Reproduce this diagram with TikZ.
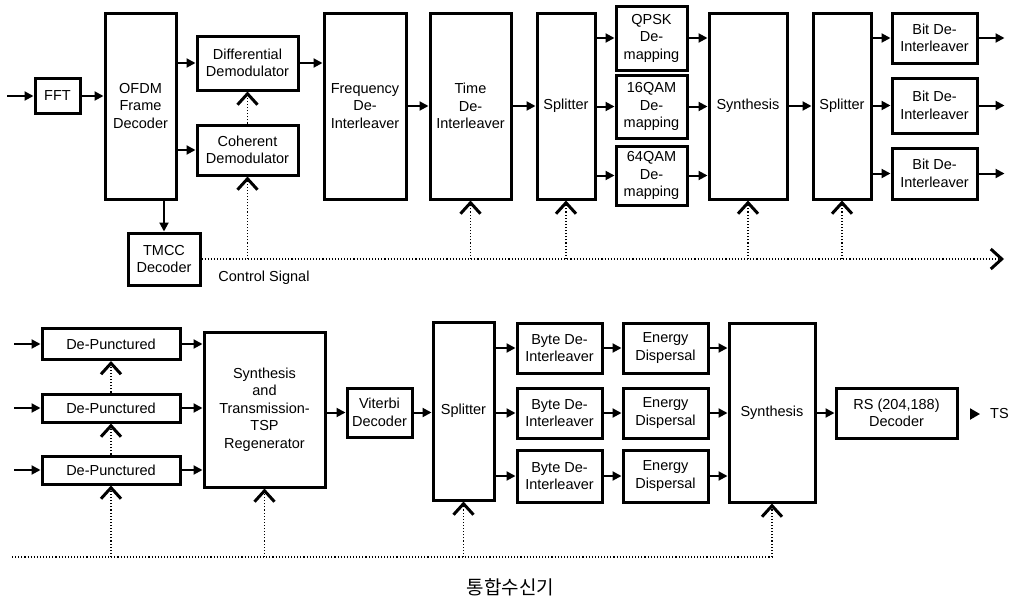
\documentclass[tikz,border=0pt]{standalone}
\usepackage{fontspec}
\setmainfont{Liberation Sans}
\newfontfamily\krfont{Noto Sans CJK KR}
\usepackage{tikz}
\usetikzlibrary{arrows.meta, positioning, calc}

\begin{document}
\begin{tikzpicture}[
  x=1pt, y=-1pt,
  unit/.style={draw, line width=3pt, inner sep=0pt, align=center, font=\fontsize{14.5}{17.5}\selectfont},
  tall unit/.style={unit, minimum height=186},
  data flow/.style={line width=2pt, -{Triangle[length=9pt,width=9pt]}},
  ctrl flow/.style={dotted, line width=1.1pt, -{Straight Barb[length=11pt,width=20pt,line width=3pt]}},
  ctrl line/.style={dotted, line width=1.1pt}
]
\useasboundingbox (0,0) rectangle (1009,600);

\node[unit, minimum width=45, minimum height=35] (fft) at (57.5,96) {FFT};
\node[tall unit, minimum width=71] (ofdm) at (140.5,106) {OFDM\\Frame\\Decoder};
\node[unit, minimum width=101, minimum height=54] (diff) at (247.5,63) {Differential\\Demodulator};
\node[unit, minimum width=101, minimum height=50] (coh) at (247.5,150) {Coherent\\Demodulator};
\node[unit, minimum width=72, minimum height=52] (tmcc) at (164,259) {TMCC\\Decoder};
\node[tall unit, minimum width=82] (freq) at (365,106) {Frequency\\De-\\Interleaver};
\node[tall unit, minimum width=81] (time) at (470.5,106) {Time\\De-\\Interleaver};
\node[tall unit, minimum width=58] (split1) at (566,106) {Splitter};
\node[unit, minimum width=71, minimum height=64] (qpsk) at (651.5,38) {QPSK\\De-\\mapping};
\node[unit, minimum width=71, minimum height=63] (qam16) at (651.5,106.5) {16QAM\\De-\\mapping};
\node[unit, minimum width=71, minimum height=59] (qam64) at (651.5,175.5) {64QAM\\De-\\mapping};
\node[tall unit, minimum width=78] (synth1) at (748,106) {Synthesis};
\node[tall unit, minimum width=58] (split2) at (842,106) {Splitter};
\node[unit, minimum width=85, minimum height=50] (bit1) at (934.5,38) {Bit De-\\Interleaver};
\node[unit, minimum width=85, minimum height=55] (bit2) at (934.5,105.5) {Bit De-\\Interleaver};
\node[unit, minimum width=85, minimum height=51] (bit3) at (934.5,173.5) {Bit De-\\Interleaver};
\node[font=\fontsize{14.5}{17.5}\selectfont] (ctrltext) at (264,278) {Control Signal};

\coordinate (in0) at (7,96);
\coordinate (ctrlend) at (1004,259);
\foreach \i in {1,2,3}
  \coordinate (out\i) at ($(bit\i.east)+(26,0)$);

\draw[data flow] (in0) -- (fft.west);
\draw[data flow] (fft.east) -- (fft.east -| ofdm.west);
\draw[data flow] (ofdm.east |- diff.west) -- (diff.west);
\draw[data flow] (ofdm.east |- coh.west) -- (coh.west);
\draw[data flow] (ofdm.south -| tmcc.north) -- (tmcc.north);
\draw[data flow] (diff.east) -- (diff.east -| freq.west);
\draw[data flow] (freq.east) -- (time.west);
\draw[data flow] (time.east) -- (split1.west);
\foreach \m in {qpsk,qam16,qam64} {
  \draw[data flow] (split1.east |- \m.west) -- (\m.west);
  \draw[data flow] (\m.east) -- (\m.east -| synth1.west);
}
\draw[data flow] (synth1.east) -- (split2.west);
\foreach \i in {1,2,3} {
  \draw[data flow] (split2.east |- bit\i.west) -- (bit\i.west);
  \draw[data flow] (bit\i.east) -- (out\i);
}

\draw[ctrl flow] (tmcc.east) -- (ctrlend);
\draw[ctrl flow] (coh.north) -- (diff.south);
\foreach \n in {coh,time,split1,synth1,split2}
  \draw[ctrl flow] (\n.south |- ctrlend) -- (\n.south);

\node[unit, minimum width=138, minimum height=31] (dp1) at (111,344) {De-Punctured};
\node[unit, minimum width=138, minimum height=28] (dp2) at (111,408) {De-Punctured};
\node[unit, minimum width=138, minimum height=28] (dp3) at (111,470) {De-Punctured};
\node[unit, minimum width=121, minimum height=155] (tsp) at (264.5,409.5) {Synthesis\\and\\Transmission-\\TSP\\Regenerator};
\node[unit, minimum width=65, minimum height=49] (vit) at (379.5,412.5) {Viterbi\\Decoder};
\node[unit, minimum width=61, minimum height=178] (split3) at (463.5,411) {Splitter};
\node[unit, minimum width=85, minimum height=50] (byte1) at (559.5,348) {Byte De-\\Interleaver};
\node[unit, minimum width=85, minimum height=50] (byte2) at (559.5,413) {Byte De-\\Interleaver};
\node[unit, minimum width=85, minimum height=52] (byte3) at (559.5,476) {Byte De-\\Interleaver};
\node[unit, minimum width=85, minimum height=50] (energy1) at (665.5,348) {Energy\\Dispersal};
\node[unit, minimum width=85, minimum height=50] (energy2) at (665.5,413) {Energy\\Dispersal};
\node[unit, minimum width=85, minimum height=52] (energy3) at (665.5,476) {Energy\\Dispersal};
\node[unit, minimum width=86, minimum height=179] (synth2) at (772,412.5) {Synthesis};
\node[unit, minimum width=121, minimum height=50] (rs) at (896.5,413) {RS (204,188)\\Decoder};
\node[anchor=west, inner sep=0pt, font=\fontsize{14.5}{17.5}\selectfont] (ts) at (990,414) {TS};
\node[font=\fontsize{19}{22}\krfont] (title) at (510.5,587) {통합수신기};

\coordinate (bottomstart) at (12,557);
\coordinate (tsin) at (970,414);
\foreach \i in {1,2,3}
  \coordinate (dpin\i) at (dp\i.west -| 14,0);

\foreach \i in {1,2,3} {
  \draw[data flow] (dpin\i) -- (dp\i.west);
  \draw[data flow] (dp\i.east) -- (dp\i.east -| tsp.west);
  \draw[data flow] (split3.east |- byte\i.west) -- (byte\i.west);
  \draw[data flow] (byte\i.east) -- (energy\i.west);
  \draw[data flow] (energy\i.east) -- (energy\i.east -| synth2.west);
}
\draw[data flow] (tsp.east |- vit.west) -- (vit.west);
\draw[data flow] (vit.east) -- (vit.east -| split3.west);
\draw[data flow] (synth2.east |- rs.west) -- (rs.west);
\draw[line width=2pt, -{Triangle[length=10pt,width=11pt]}, shorten >=10pt] (tsin) -- (ts.west);

\draw[ctrl line] (bottomstart) -- (synth2.south |- bottomstart);
\draw[ctrl flow] (synth2.south |- bottomstart) -- (synth2.south);
\draw[ctrl flow] (dp2.north) -- (dp1.south);
\draw[ctrl flow] (dp3.north) -- (dp2.south);
\foreach \n in {dp3,tsp,split3}
  \draw[ctrl flow] (\n.south |- bottomstart) -- (\n.south);
\end{tikzpicture}
\end{document}
